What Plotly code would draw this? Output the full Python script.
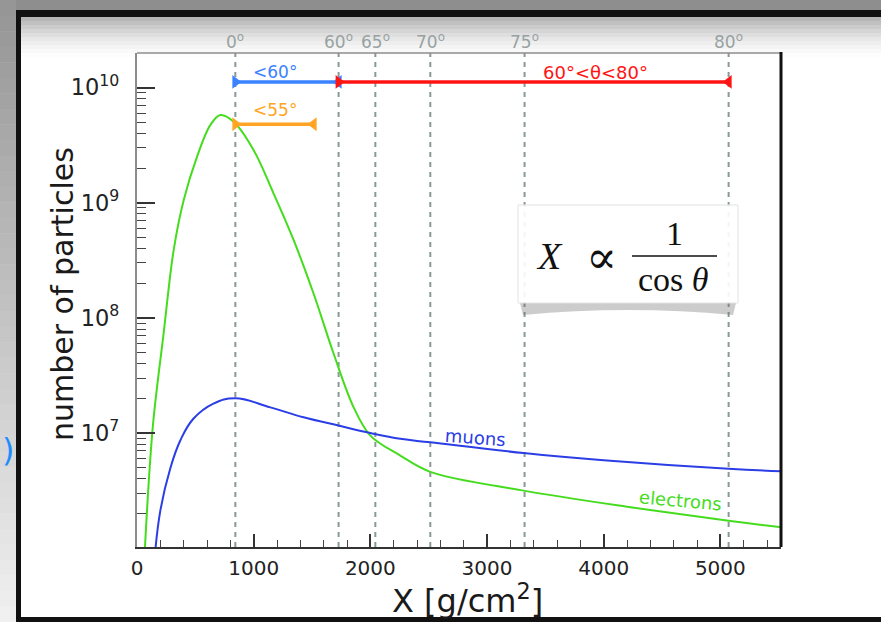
import math
import plotly.graph_objects as go

# ---------------- data ----------------
electron_X = [60, 135, 228, 314, 400, 514, 628, 714, 828, 1000, 1171, 1343, 1514,
              1685, 1857, 2000, 2257, 2514, 3314, 4200, 5071, 5520]
electron_N = [7.1e5, 1.12e7, 7.3e7, 3.86e8, 1.05e9, 2.5e9, 4.72e9, 5.77e9, 5.05e9,
              2.86e9, 1.2e9, 4.72e8, 1.62e8, 4.9e7, 1.67e7, 9.5e6, 6.37e6, 4.6e6,
              3.16e6, 2.29e6, 1.73e6, 1.52e6]

muon_X = [150, 200, 285, 371, 483, 655, 843, 1143, 1428, 1728,
          2000, 2257, 2514, 3314, 4000, 5071, 5520]
muon_N = [7.9e5, 2.12e6, 4.91e6, 8.6e6, 1.33e7, 1.8e7,
          2.0e7, 1.67e7, 1.37e7, 1.16e7, 1.0e7, 8.9e6, 8.3e6, 6.7e6, 5.8e6, 4.89e6, 4.66e6]

angle_labels = ["0", "60", "65", "70", "75", "80"]
angle_X = [843, 1728, 2043, 2514, 3322, 5071]

range_labels = ["<60°", "<55°", "60°<θ<80°"]
range_start = [843, 843, 1728]
range_end = [1728, 1514, 5071]
range_level = [1.12e10, 4.8e9, 1.12e10]
range_label_X = [1185, 1185, 3928]
range_label_N = [1.36e10, 6.37e9, 1.36e10]
range_colors = ["#3a82ff", "#ffa424", "#ff1414"]

curve_labels = ["muons", "electrons"]
curve_label_X = [2900, 4657]
curve_label_N = [9.2e6, 2.59e6]

x_range = [0, 5520]
y_range_log = [6.01, 10.3]

# ---------------- styling ----------------
W, H = 881, 622
ML, MR, MT, MB = 137, 100, 53, 75
PW, PH = W - ML - MR, H - MT - MB


def px(x):
    return (x - ML) / PW


def py(y):
    return (H - MB - y) / PH


GREEN = "#45dc1e"
BLUE = "#2b3ee6"
GRID = "#8a9898"
SANS = "DejaVu Sans"
SERIF = "Liberation Serif"

fig = go.Figure()

fig.add_trace(go.Scatter(x=electron_X, y=electron_N, mode="lines",
                         line=dict(color=GREEN, width=2, shape="spline", smoothing=1.0),
                         name="electrons", showlegend=False, hoverinfo="skip"))
fig.add_trace(go.Scatter(x=muon_X, y=muon_N, mode="lines",
                         line=dict(color=BLUE, width=2, shape="spline", smoothing=1.2),
                         name="muons", showlegend=False, hoverinfo="skip"))

# range bars with inward triangles
for s, e, lvl, c in zip(range_start, range_end, range_level, range_colors):
    fig.add_trace(go.Scatter(x=[s, e], y=[lvl, lvl], mode="lines+markers",
                             line=dict(color=c, width=3.5),
                             marker=dict(symbol=["triangle-right", "triangle-left"],
                                         size=12, color=c),
                             showlegend=False, hoverinfo="skip"))

shapes = []
# vertical dashed angle lines
for ax in angle_X:
    shapes.append(dict(type="line", xref="x", yref="paper", x0=ax, x1=ax, y0=0, y1=1,
                       line=dict(color=GRID, width=2, dash="5px,5px"), layer="below"))

# ---------------- decorative slide frame ----------------
shapes.append(dict(type="rect", xref="paper", yref="paper", x0=px(0), x1=px(W),
                   y0=py(0), y1=py(10), fillcolor="#8e8e8e", line_width=0, layer="below"))
n = 40
for i in range(n):
    t = i / (n - 1)
    g = int(150 + (240 - 150) * t)
    shapes.append(dict(type="rect", xref="paper", yref="paper", x0=px(0), x1=px(16),
                       y0=py(i * H / n), y1=py((i + 1) * H / n + 0.5),
                       fillcolor=f"rgb({g},{g},{g})", line_width=0, layer="below"))
for k in range(10):
    a = 0.55 * (1 - k / 10) ** 1.6
    shapes.append(dict(type="rect", xref="paper", yref="paper", x0=px(21), x1=px(W),
                       y0=py(17 + k * 4), y1=py(21 + k * 4),
                       fillcolor=f"rgba(120,120,120,{a:.3f})", line_width=0, layer="below"))
shapes.append(dict(type="rect", xref="paper", yref="paper", x0=px(16), x1=px(W),
                   y0=py(10), y1=py(17), fillcolor="#111", line_width=0, layer="below"))
shapes.append(dict(type="rect", xref="paper", yref="paper", x0=px(16), x1=px(21),
                   y0=py(10), y1=py(H), fillcolor="#111", line_width=0, layer="below"))
shapes.append(dict(type="rect", xref="paper", yref="paper", x0=px(16), x1=px(W),
                   y0=py(617), y1=py(H), fillcolor="#111", line_width=0, layer="below"))

# plot frame: thin gray top, thick black right
shapes.append(dict(type="line", xref="paper", yref="paper", x0=0, x1=1, y0=1, y1=1,
                   line=dict(color="#8c8c8c", width=1.5)))
shapes.append(dict(type="line", xref="paper", yref="paper", x0=1, x1=1, y0=0, y1=1.002,
                   line=dict(color="#111", width=3)))

# formula box + drop shadow
bx0, bx1, by0, by1 = 518, 738, 205, 303
shapes.append(dict(type="path", xref="paper", yref="paper",
                   path=(f"M {px(bx0+2)},{py(by1)} L {px(bx0+5)},{py(by1+12)} "
                         f"Q {px((bx0+bx1)/2)},{py(by1+2)} {px(bx1-5)},{py(by1+12)} "
                         f"L {px(bx1-2)},{py(by1)} Z"),
                   fillcolor="rgba(110,110,110,0.35)", line_width=0, layer="above"))
shapes.append(dict(type="rect", xref="paper", yref="paper", x0=px(bx0), x1=px(bx1),
                   y0=py(by1), y1=py(by0), fillcolor="rgba(255,255,255,0.9)",
                   line=dict(color="#e2e2e2", width=1), layer="above"))
shapes.append(dict(type="line", xref="paper", yref="paper", x0=px(632), x1=px(717),
                   y0=py(256), y1=py(256), line=dict(color="#111", width=1.5), layer="above"))

annotations = []


def note(x, y, text, font, xref="paper", yref="paper", angle=0):
    annotations.append(dict(x=x, y=y, xref=xref, yref=yref, text=text, showarrow=False,
                            xanchor="center", yanchor="middle", textangle=angle, font=font))


for lab, ax in zip(angle_labels, angle_X):
    note(ax, py(41), f"{lab}<sup>o</sup>", dict(family=SANS, size=17, color="#98a2a2"), xref="x")
for lab, lx, ly, c, fs in zip(range_labels, range_label_X, range_label_N, range_colors, [17, 17, 18]):
    note(lx, math.log10(ly), lab, dict(family=SANS, size=fs, color=c), xref="x", yref="y")
for lab, lx, ly, c, ang in zip(curve_labels, curve_label_X, curve_label_N, [BLUE, GREEN], [4, 5]):
    note(lx, math.log10(ly), lab, dict(family=SANS, size=18, color=c), xref="x", yref="y", angle=ang)

note(px(62), py(294), "number of particles", dict(family=SANS, size=30, color="#1a1a1a"), angle=-90)
note(px(467), py(599), "X [g/cm<sup>2</sup>]", dict(family=SANS, size=32, color="#1a1a1a"))
# formula
note(px(549), py(256), "<i>X</i>", dict(family=SERIF, size=38, color="#111"))
note(px(601), py(257), "∝", dict(family="DejaVu Serif", size=46, color="#111"))
note(px(674), py(234), "1", dict(family=SERIF, size=34, color="#111"))
note(px(673), py(279), "cos <i>θ</i>", dict(family=SERIF, size=34, color="#111"))
# stray blue bracket at the slide's left edge
note(px(8), py(450), ")", dict(family=SANS, size=32, color="#1e8cff"))

fig.update_layout(
    width=W, height=H,
    margin=dict(l=ML, r=MR, t=MT, b=MB, pad=0),
    paper_bgcolor="white", plot_bgcolor="rgba(0,0,0,0)",
    shapes=shapes, annotations=annotations, showlegend=False,
    xaxis=dict(range=x_range, showgrid=False, zeroline=False,
               showline=True, linecolor="#333", linewidth=2,
               ticks="inside", ticklen=13, tickwidth=1.5, tickcolor="#333",
               dtick=1000, tick0=0, tickformat="d",
               tickfont=dict(family=SANS, size=20, color="#222"),
               ticklabelstandoff=2,
               minor=dict(ticks="inside", ticklen=7, tickwidth=1.2, tickcolor="#444", dtick=200,
                          showgrid=False)),
    yaxis=dict(type="log", range=y_range_log, showgrid=False, zeroline=False,
               showline=True, linecolor="#8c8c8c", linewidth=2,
               ticks="inside", ticklen=18, tickwidth=1.5, tickcolor="#333",
               tickmode="linear", tick0=0, dtick=1, exponentformat="power",
               showexponent="all",
               tickfont=dict(family=SANS, size=18, color="#222"),
               ticklabelstandoff=12,
               minor=dict(ticks="inside", ticklen=9, tickwidth=1.2, tickcolor="#444",
                          dtick="D1", showgrid=False)),
)

fig.write_html("out.html")
